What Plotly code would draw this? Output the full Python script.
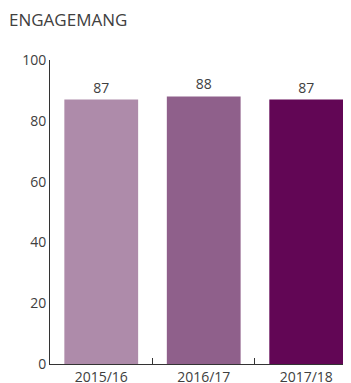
import plotly.graph_objects as go

categories = ["2015/16", "2016/17", "2017/18"]
values = [87, 88, 87]
colors = ["#AE8BAA", "#8F608B", "#620655"]
y_ticks = [0, 20, 40, 60, 80, 100]
title_text = "ENGAGEMANG"

# page has an 8px body margin; compensate in figure coordinates
fig = go.Figure(go.Bar(
    x=categories, y=values, marker_color=colors, marker_line_width=0,
    width=0.72, text=[str(v) for v in values], textposition="outside",
    textfont=dict(size=14, color="#404040"), cliponaxis=False,
))

fig.update_layout(
    width=351, height=383,
    margin=dict(l=42, r=8, t=52, b=27, autoexpand=False),
    paper_bgcolor="white", plot_bgcolor="white",
    font=dict(family="Open Sans", size=14, color="#404040"),
    showlegend=False,
    title=dict(text=title_text, x=1/351, xanchor="left", xref="container",
               y=1-12/383, yanchor="middle", yref="container", automargin=False,
               font=dict(size=17, color="#404040", family="Open Sans")),
    xaxis=dict(range=[-0.5, 2.437], showline=True, linecolor="#333", linewidth=1,
               ticks="inside", tickson="boundaries", ticklen=6, tickcolor="#333",
               showgrid=False, zeroline=False, tickfont=dict(size=14), automargin=False),
    yaxis=dict(range=[0, 100], tickvals=y_ticks, showline=True, linecolor="#333", linewidth=1,
               showgrid=False, zeroline=False, ticks="", tickfont=dict(size=14), automargin=False),
)

fig.write_html("out.html")
